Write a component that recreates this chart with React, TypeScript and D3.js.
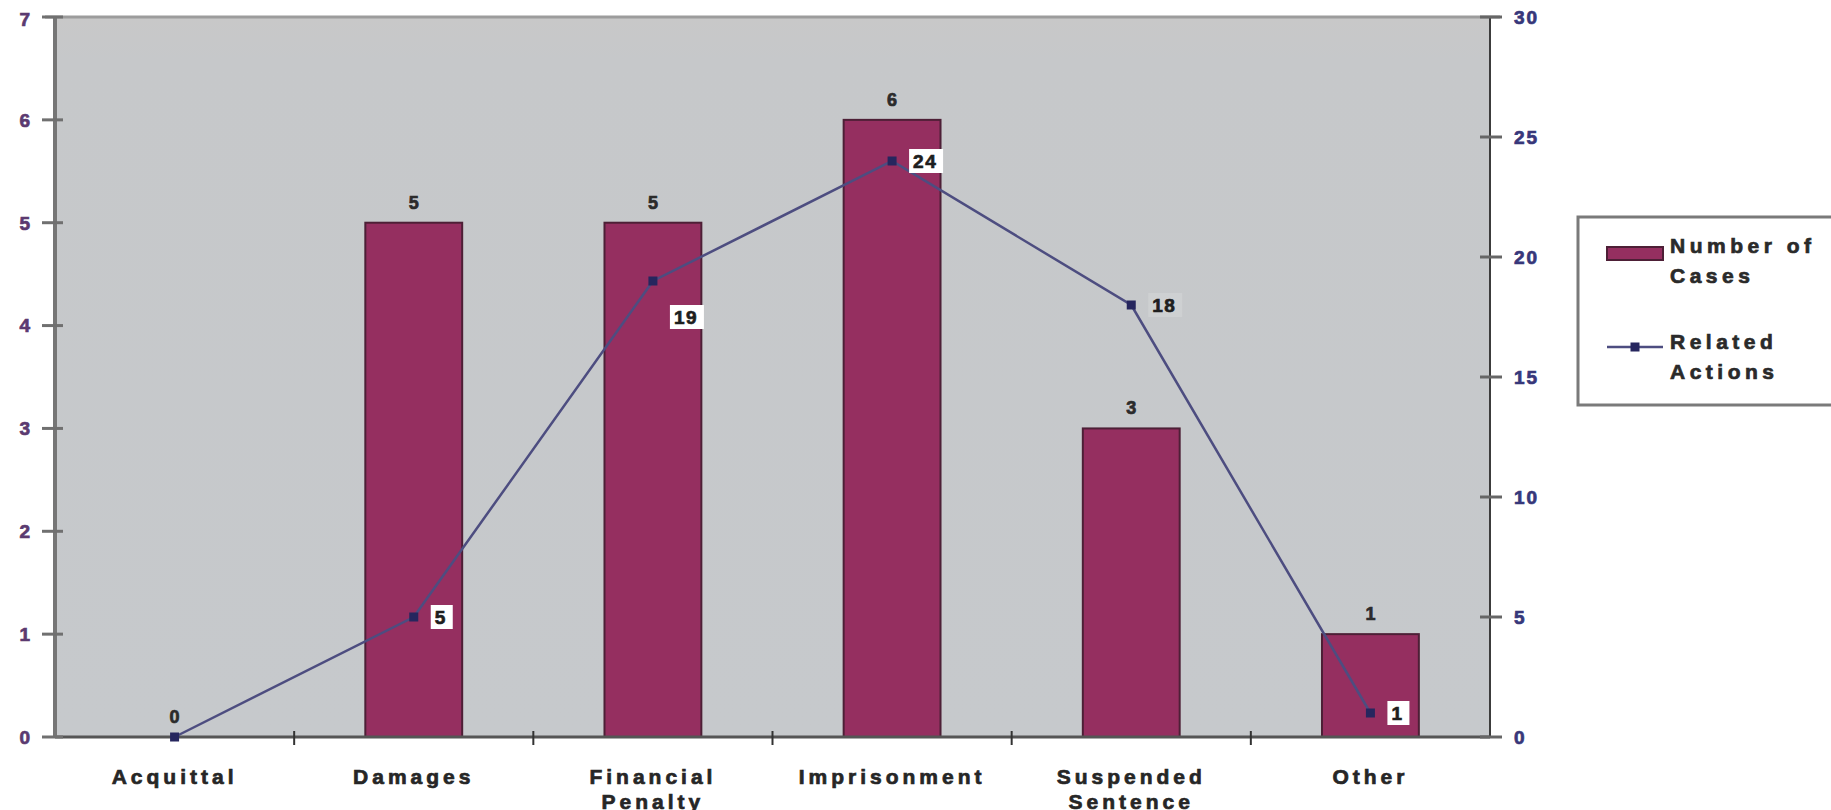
import { useEffect, useRef } from "react";
import * as d3 from "d3";

const categories = ["Acquittal", "Damages", "Financial Penalty", "Imprisonment", "Suspended Sentence", "Other"];
const categoryLines = [["Acquittal"], ["Damages"], ["Financial", "Penalty"], ["Imprisonment"], ["Suspended", "Sentence"], ["Other"]];
const numberOfCases = [0, 5, 5, 6, 3, 1];
const relatedActions = [0, 5, 19, 24, 18, 1];
const leftTicks = [0, 1, 2, 3, 4, 5, 6, 7];
const rightTicks = [0, 5, 10, 15, 20, 25, 30];
const legendLabels = [["Number of", "Cases"], ["Related", "Actions"]];

const W = 1831;
const H = 810;
const FONT = "'Liberation Sans', Arial, sans-serif";

export default function App() {
  const ref = useRef<SVGSVGElement | null>(null);

  useEffect(() => {
    const svg = d3.select(ref.current!);
    svg.selectAll("*").remove();

    const left = 55, right = 1490, top = 17, bottom = 737;

    const x = d3.scaleBand<string>().domain(categories).range([left, right]).paddingInner(0.595).paddingOuter(0.2975);
    const step = (right - left) / categories.length;
    const cx = (c: string) => x(c)! + x.bandwidth() / 2;
    const yL = d3.scaleLinear().domain([0, 7]).range([bottom, top]);
    const yR = d3.scaleLinear().domain([0, 30]).range([bottom, top]);

    const heavy = (sel: any, color: string) =>
      sel.style("fill", color).style("stroke", color).style("stroke-width", "0.7px");

    svg.append("rect").attr("width", W).attr("height", H).attr("fill", "#ffffff");

    const defs = svg.append("defs");
    const grad = defs.append("linearGradient").attr("id", "bg").attr("x1", 0).attr("y1", 0).attr("x2", 0).attr("y2", 1);
    grad.append("stop").attr("offset", 0).attr("stop-color", "#c8c8c8");
    grad.append("stop").attr("offset", 0.06).attr("stop-color", "#c6c8ca");
    grad.append("stop").attr("offset", 1).attr("stop-color", "#c6c9cc");

    svg.append("rect")
      .attr("x", left).attr("y", top)
      .attr("width", right - left).attr("height", bottom - top)
      .attr("fill", "url(#bg)");

    // top border
    svg.append("line")
      .attr("x1", left - 10).attr("x2", right + 10)
      .attr("y1", top).attr("y2", top)
      .attr("stroke", "#9c9c9c").attr("stroke-width", 3);

    // bars
    svg.append("g")
      .selectAll("rect")
      .data(categories)
      .join("rect")
      .attr("x", (d) => x(d)!)
      .attr("y", (_, i) => yL(numberOfCases[i]))
      .attr("width", x.bandwidth())
      .attr("height", (_, i) => bottom - yL(numberOfCases[i]))
      .attr("fill", "#952f60")
      .attr("stroke", "#4d1f36")
      .attr("stroke-width", 2)
      .style("display", (_, i) => (numberOfCases[i] === 0 ? "none" : null));

    // axes lines
    svg.append("line")
      .attr("x1", left).attr("x2", right)
      .attr("y1", bottom).attr("y2", bottom)
      .attr("stroke", "#555").attr("stroke-width", 3);
    svg.append("line")
      .attr("x1", left).attr("x2", left)
      .attr("y1", top).attr("y2", bottom + 1)
      .attr("stroke", "#767676").attr("stroke-width", 4);
    svg.append("line")
      .attr("x1", right).attr("x2", right)
      .attr("y1", top).attr("y2", bottom + 1)
      .attr("stroke", "#3c3c3c").attr("stroke-width", 2);

    // left ticks
    const lt = svg.append("g").selectAll("g").data(leftTicks).join("g");
    lt.append("line")
      .attr("x1", left - 13).attr("x2", left + 8)
      .attr("y1", (d) => yL(d)).attr("y2", (d) => yL(d))
      .attr("stroke", "#707070").attr("stroke-width", 3);
    heavy(lt.append("text")
      .attr("x", 30).attr("y", (d) => yL(d) + (d === 7 ? 2 : 0))
      .attr("dy", "0.36em")
      .attr("text-anchor", "end")
      .style("font", `bold 19px ${FONT}`), "#5b3a70")
      .text((d: number) => d);

    // right ticks
    const rt = svg.append("g").selectAll("g").data(rightTicks).join("g");
    rt.append("line")
      .attr("x1", right - 10).attr("x2", right + 12)
      .attr("y1", (d) => yR(d)).attr("y2", (d) => yR(d))
      .attr("stroke", "#666").attr("stroke-width", 3);
    heavy(rt.append("text")
      .attr("x", right + 24).attr("y", (d) => yR(d))
      .attr("dy", "0.36em")
      .style("font", `bold 19px ${FONT}`)
      .style("letter-spacing", "2px"), "#37377a")
      .text((d: number) => d);

    // category boundary ticks
    svg.append("g")
      .selectAll("line")
      .data(d3.range(1, categories.length))
      .join("line")
      .attr("x1", (i) => left + i * step).attr("x2", (i) => left + i * step)
      .attr("y1", bottom - 6).attr("y2", bottom + 8)
      .attr("stroke", "#333").attr("stroke-width", 2);

    // category labels
    const cl = heavy(svg.append("g").selectAll("text").data(categories).join("text")
      .attr("x", (d) => cx(d))
      .attr("y", 784)
      .attr("text-anchor", "middle")
      .style("font", `bold 21px ${FONT}`)
      .style("letter-spacing", "4px"), "#262626");
    cl.selectAll("tspan")
      .data((_: string, i: number) => categoryLines[i])
      .join("tspan")
      .attr("x", function (this: SVGTSpanElement) { return (this.parentNode as SVGTextElement).getAttribute("x"); })
      .attr("dy", (_: string, j: number) => (j === 0 ? 0 : 25))
      .text((d: string) => d);

    // bar labels
    heavy(svg.append("g")
      .selectAll("text")
      .data(categories)
      .join("text")
      .attr("x", (d) => cx(d))
      .attr("y", (_, i) => yL(numberOfCases[i]) - 14)
      .attr("text-anchor", "middle")
      .style("font", `bold 18px ${FONT}`), "#2b2b2b")
      .text((_: string, i: number) => numberOfCases[i]);

    // line
    const line = d3.line<number>()
      .x((_, i) => cx(categories[i]))
      .y((d) => yR(d));
    svg.append("path")
      .datum(relatedActions)
      .attr("d", line)
      .attr("fill", "none")
      .attr("stroke", "#4d4d80")
      .attr("stroke-width", 2.5);

    svg.append("g")
      .selectAll("rect")
      .data(relatedActions)
      .join("rect")
      .attr("x", (_, i) => cx(categories[i]) - 4.5)
      .attr("y", (d) => yR(d) - 4.5)
      .attr("width", 9).attr("height", 9)
      .attr("fill", "#26265e");

    // line value labels
    const ll = svg.append("g")
      .selectAll("g")
      .data(relatedActions)
      .join("g")
      .style("display", (d) => (d === 0 ? "none" : null))
      .attr("transform", (d, i) => {
        const dy = categories[i] === "Financial Penalty" ? 36 : 0;
        return `translate(${cx(categories[i]) + 17},${yR(d) + dy})`;
      });
    ll.append("rect")
      .attr("x", 0).attr("y", -12)
      .attr("width", (d) => String(d).length * 12 + 10)
      .attr("height", 24)
      .attr("fill", "#ffffff")
      .attr("fill-opacity", (_, i) => (categories[i] === "Suspended Sentence" ? 0.15 : 1));
    heavy(ll.append("text")
      .attr("x", 4).attr("y", 0)
      .attr("dy", "0.36em")
      .style("font", `bold 19px ${FONT}`)
      .style("letter-spacing", "1.5px"), "#1e1e1e")
      .text((d: number) => d);

    // legend
    const lg = svg.append("g");
    lg.append("rect")
      .attr("x", 1578).attr("y", 217)
      .attr("width", 280).attr("height", 188)
      .attr("fill", "#ffffff")
      .attr("stroke", "#7a7a7a")
      .attr("stroke-width", 3);
    lg.append("rect")
      .attr("x", 1607).attr("y", 247)
      .attr("width", 56).attr("height", 13)
      .attr("fill", "#952f60")
      .attr("stroke", "#4d1f36")
      .attr("stroke-width", 2);
    lg.append("line")
      .attr("x1", 1607).attr("x2", 1663)
      .attr("y1", 347).attr("y2", 347)
      .attr("stroke", "#4d4d80").attr("stroke-width", 2.5);
    lg.append("rect")
      .attr("x", 1630.5).attr("y", 342.5)
      .attr("width", 9).attr("height", 9)
      .attr("fill", "#26265e");

    heavy(lg.selectAll("text.lab")
      .data(legendLabels)
      .join("text")
      .attr("class", "lab")
      .attr("x", 1670)
      .attr("y", (_, i) => (i === 0 ? 253 : 349))
      .attr("dy", "0.36em")
      .style("font", `bold 21px ${FONT}`)
      .style("letter-spacing", "4.5px"), "#2a2a2a")
      .selectAll("tspan")
      .data((d: string[]) => d)
      .join("tspan")
      .attr("x", 1670)
      .attr("dy", (_: string, j: number) => (j === 0 ? 0 : 30))
      .text((d: string) => d);
  }, []);

  return (
    <svg
      ref={ref}
      width={W}
      height={H}
      style={{ position: "absolute", left: 0, top: 0, display: "block" }}
    />
  );
}
